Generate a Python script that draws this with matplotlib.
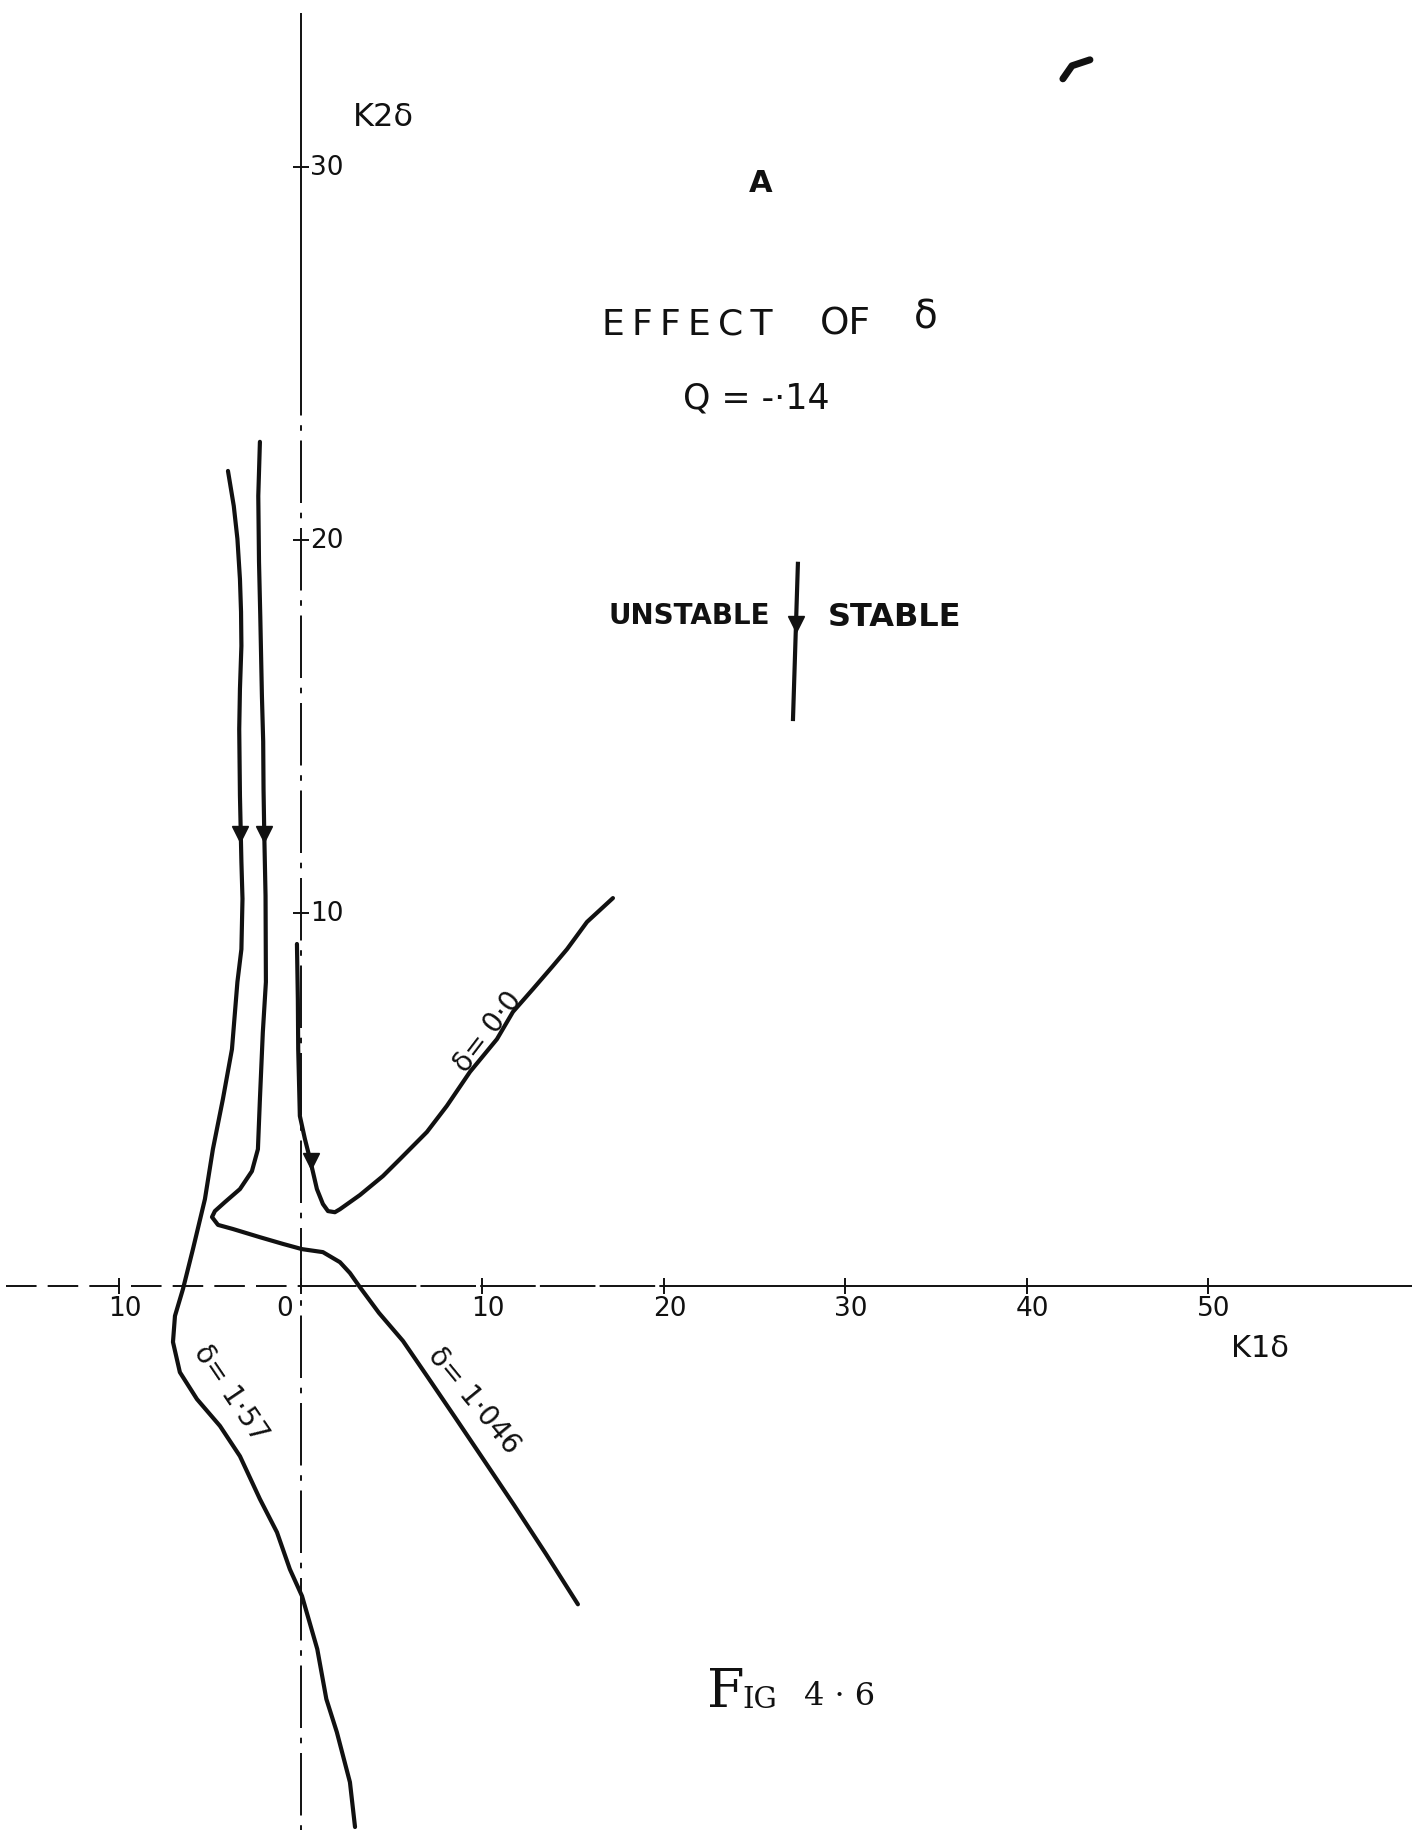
import numpy as np
import matplotlib.pyplot as plt

plt.rcParams['font.family'] = ['DejaVu Sans']
plt.rcParams['lines.scale_dashes'] = False

# stability boundaries in the (K1d, K2d) plane, Q = -.14
k1_d0 = [-0.22, -0.17, -0.15, -0.06, 0.22, 0.50, 0.88, 1.21, 1.49, 1.87, 2.15,
         3.25, 4.52, 5.45, 6.94, 8.04, 9.31, 10.80, 11.68, 12.78, 13.88, 14.66,
         15.76, 17.19]
k2_d0 = [9.17, 7.69, 6.35, 4.56, 3.94, 3.40, 2.60, 2.20, 2.01, 1.98, 2.06,
         2.44, 2.95, 3.40, 4.13, 4.83, 5.74, 6.62, 7.35, 7.96, 8.58, 9.03,
         9.76, 10.40]

k1_d1046 = [-2.26, -2.35, -2.31, -2.24, -2.15, -2.08, -2.06, -2.02, -1.95,
            -1.93, -2.10, -2.26, -2.37, -2.70, -3.36, -4.19, -4.74, -4.90,
            -4.57, -3.75, -2.26, -0.99, 0.06, 1.21, 2.15, 2.70, 3.25, 4.30,
            5.62, 7.00, 8.48, 10.10, 11.74, 13.50, 15.26]
k2_d1046 = [22.63, 21.18, 19.41, 17.96, 15.82, 14.60, 13.30, 12.12, 10.46,
            8.15, 6.80, 5.01, 3.67, 3.08, 2.60, 2.25, 2.01, 1.85, 1.64, 1.53,
            1.31, 1.13, 0.99, 0.91, 0.64, 0.35, -0.03, -0.72, -1.47, -2.45,
            -3.51, -4.68, -5.87, -7.18, -8.53]

k1_d157 = [-4.02, -3.70, -3.50, -3.36, -3.30, -3.28, -3.36, -3.40, -3.36,
           -3.28, -3.22, -3.28, -3.50, -3.80, -4.30, -4.85, -5.29, -5.95,
           -6.50, -6.94, -7.05, -6.67, -5.73, -4.46, -3.36, -2.26, -1.32,
           -0.61, 0.06, 0.90, 1.40, 1.98, 2.70, 2.98]
k2_d157 = [21.85, 20.91, 20.03, 18.95, 18.07, 17.16, 16.01, 14.93, 13.14,
           11.37, 10.38, 9.03, 8.15, 6.35, 5.01, 3.67, 2.33, 0.99, -0.08,
           -0.80, -1.50, -2.31, -3.03, -3.75, -4.56, -5.71, -6.60, -7.59,
           -8.31, -9.73, -11.07, -11.96, -13.30, -14.50]

# direction arrows drawn on the curves
arrow_k1 = [-3.33, -2.03, 0.55]
arrow_k2 = [12.12, 12.12, 3.35]

x_ticks = [-10, 0, 10, 20, 30, 40, 50]
x_tick_labels = ['10', '0', '10', '20', '30', '40', '50']
y_ticks = [10, 20, 30]
y_tick_labels = ['10', '20', '30']

curve_labels = ['δ= 0·0', 'δ= 1·046', 'δ= 1·57']
curve_label_xy = [(10.30, 6.84), (9.55, -3.05), (-3.85, -2.85)]
curve_label_rot = [52.6, -50.7, -56.0]

# separator between the unstable and stable regions
split_k1 = [27.38, 27.11]
split_k2 = [19.36, 15.20]

smudge_k1 = [41.98, 42.48, 43.47]
smudge_k2 = [32.36, 32.71, 32.87]

fig = plt.figure(figsize=(14.23, 18.31), dpi=100)
ax = fig.add_axes([0, 0, 1, 1])
ax.set_xlim(-16.58, 61.82)
ax.set_ylim(-14.58, 34.50)
ax.axis('off')

ink = '#111111'
axis_kw = dict(color=ink, lw=1.4, solid_capstyle='butt')

# hand drawn axes
ax.plot([-16.25, 0], [0, 0], dashes=(22, 8), **axis_kw)
ax.plot([0, 20], [0, 0], dashes=(40, 3), **axis_kw)
ax.plot([20, 61.2], [0, 0], **axis_kw)
ax.plot([0, 0], [25.0, 34.13], **axis_kw)
ax.plot([0, 0], [25.0, -14.58], dashes=(45, 7, 4, 7), **axis_kw)

ax.plot(x_ticks, np.zeros(len(x_ticks)), ls='none', marker='|', ms=11,
        mew=1.4, color=ink)
ax.plot(np.zeros(len(y_ticks)), y_ticks, ls='none', marker='_', ms=11,
        mew=1.4, color=ink)

for x, lab in zip(x_ticks, x_tick_labels):
    dx = -0.9 if x == 0 else 0.3
    ax.text(x + dx, -0.6, lab, fontsize=19, ha='center', va='center', color=ink)
for y, lab in zip(y_ticks, y_tick_labels):
    ax.text(0.5, y, lab, fontsize=19, ha='left', va='center', color=ink)

ax.text(4.52, 31.34, 'K2δ', fontsize=23, ha='center', va='center', color=ink)
ax.text(52.84, -1.64, 'K1δ', fontsize=22, ha='center', va='center', color=ink)

# boundary curves
curve_kw = dict(color=ink, lw=3.0, solid_joinstyle='round', solid_capstyle='round')
ax.plot(k1_d0, k2_d0, **curve_kw)
ax.plot(k1_d1046, k2_d1046, **curve_kw)
ax.plot(k1_d157, k2_d157, **curve_kw)
ax.plot(arrow_k1, arrow_k2, ls='none', marker='v', ms=11, color=ink)

for lab, (x, y), rot in zip(curve_labels, curve_label_xy, curve_label_rot):
    ax.text(x, y, lab, fontsize=20, rotation=rot, rotation_mode='anchor',
            ha='center', va='center', color=ink)

# titles
ax.text(25.34, 29.57, 'A', fontsize=22, fontweight='bold', ha='center',
        va='center', color=ink)
ax.text(21.29, 25.79, '\u2009'.join('EFFECT'), fontsize=26, ha='center',
        va='center', color=ink)
ax.text(29.97, 25.79, 'OF', fontsize=27, ha='center', va='center', color=ink)
ax.text(34.44, 26.0, 'δ', fontsize=28, ha='center', va='center', color=ink)
ax.text(25.07, 23.83, 'Q = -·14', fontsize=25, ha='center', va='center', color=ink)

ax.text(25.86, 17.99, 'UNSTABLE', fontsize=20, fontweight='bold', ha='right',
        va='center', color=ink)
ax.text(29.04, 17.95, 'STABLE', fontsize=23, fontweight='bold', ha='left',
        va='center', color=ink)
ax.plot(split_k1, split_k2, color=ink, lw=3.0)
ax.plot([np.mean(split_k1) + 0.05], [17.75], marker='v', ms=11, color=ink)

ax.text(22.37, -11.29, 'F', fontsize=39, family='DejaVu Serif', ha='left',
        va='baseline', color=ink)
ax.text(24.3, -11.29, 'IG', fontsize=21, family='DejaVu Serif', ha='left',
        va='baseline', color=ink)
ax.text(27.7, -11.2, '4 · 6', fontsize=23, family='DejaVu Serif', ha='left',
        va='baseline', color=ink)

ax.plot(smudge_k1, smudge_k2, color=ink, lw=5, solid_capstyle='round')

fig.savefig('out.png', dpi=100, facecolor='white')
